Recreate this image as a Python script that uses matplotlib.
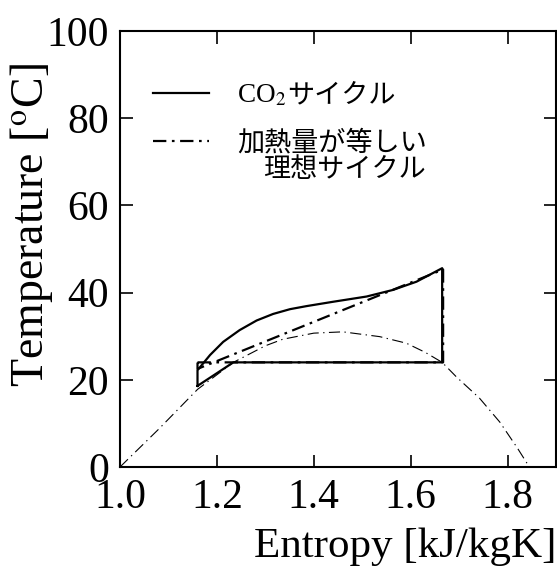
import matplotlib

matplotlib.use("Agg")
import matplotlib.pyplot as plt  # noqa: E402

# CO2 cycle (solid)
co2_s = [1.16, 1.16, 1.186, 1.213, 1.247, 1.282, 1.316, 1.351, 1.385, 1.44,
         1.509, 1.563, 1.612, 1.665, 1.665, 1.234, 1.16]
co2_T = [18.6, 22.2, 25.7, 28.7, 31.4, 33.6, 35.1, 36.2, 36.9, 37.9,
         39.1, 40.6, 42.5, 45.6, 24.0, 24.0, 18.6]

# ideal cycle with equal heat input (thick dash-dot)
ideal_s = [1.16, 1.667, 1.667, 1.16, 1.16]
ideal_T = [24.0, 24.0, 45.3, 22.5, 24.0]

# saturation dome (thin dash-dot)
dome_s = [1.0, 1.08, 1.16, 1.234, 1.30, 1.336, 1.40, 1.46, 1.536, 1.591,
          1.63, 1.665, 1.695, 1.742, 1.784, 1.82, 1.845]
dome_T = [0.0, 8.7, 17.8, 24.0, 27.8, 29.3, 30.7, 31.0, 29.9, 28.4,
          26.3, 24.0, 20.6, 15.8, 10.3, 4.4, 0.0]

xticks = [1.0, 1.2, 1.4, 1.6, 1.8]
yticks = [0, 20, 40, 60, 80, 100]

plt.rcParams["font.family"] = ["Liberation Serif", "DejaVu Serif"]
plt.rcParams["mathtext.fontset"] = "stix"
jp = ["Noto Sans CJK JP", "DejaVu Sans"]
leg_size = 19.5

fig = plt.figure(figsize=(5.57, 5.70), dpi=100)
ax = fig.add_axes([120 / 557, 1 - 467 / 570, 436 / 557, 436 / 570])

ax.plot(dome_s, dome_T, color="k", lw=0.8, dashes=(10, 4, 1.2, 4))
ax.plot(ideal_s, ideal_T, color="k", lw=1.6, dashes=(6, 2.5, 1.2, 2.5),
        label="加熱量が等しい")
ax.plot(co2_s, co2_T, color="k", lw=1.6, label="CO$_2$")

ax.set_xlim(1.0, 1.9)
ax.set_ylim(0, 100)
ax.set_xticks(xticks)
ax.set_yticks(yticks)
ax.tick_params(direction="in", top=True, right=True, length=9, width=1.2,
               labelsize=30, pad=8)
for sp in ax.spines.values():
    sp.set_linewidth(1.5)

ax.set_xlabel("Entropy [kJ/kgK]", fontsize=31, loc="right", labelpad=8)
ax.set_ylabel("Temperature [$^{\\mathrm{o}}$C]", fontsize=33)
ax.yaxis.set_label_coords(-0.148, 0.555)

handles, labels = ax.get_legend_handles_labels()
leg = ax.legend(handles[::-1], labels[::-1], loc="upper left",
                bbox_to_anchor=(0.076, 0.882), frameon=False,
                borderpad=0, borderaxespad=0, handlelength=2.05,
                handletextpad=1.05, labelspacing=0.8,
                prop={"family": jp, "size": leg_size})
co2_txt, heat_txt = leg.get_texts()
co2_txt.set_fontfamily(["Liberation Serif", "DejaVu Serif"])

# put the katakana right after the serif "CO2", on the same baseline
fig.canvas.draw()
inv = ax.transAxes.inverted()
bb = co2_txt.get_window_extent()
base = co2_txt.get_transform().transform(co2_txt.get_position())
x1, y1 = inv.transform((bb.x1 + 1, base[1]))
ax.text(x1, y1, "サイクル", transform=ax.transAxes, va="baseline",
        ha="left", fontsize=leg_size, family=jp)

# second line of the ideal-cycle label, indented under the first
bb2 = heat_txt.get_window_extent()
x2, y2 = inv.transform((bb2.x0 + 26, bb2.y0 - 26))
ax.text(x2, y2, "理想サイクル", transform=ax.transAxes, va="bottom",
        ha="left", fontsize=leg_size, family=jp)

fig.savefig("out.png", dpi=100)
